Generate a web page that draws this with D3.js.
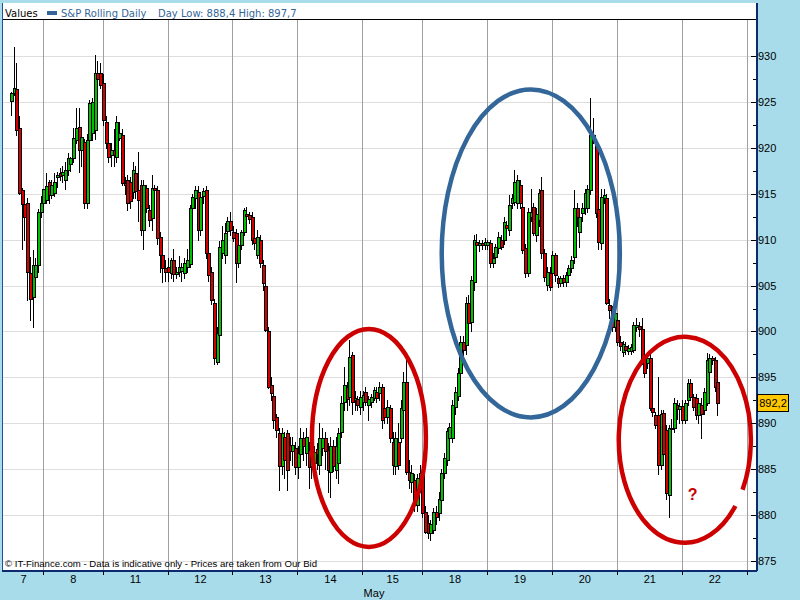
<!DOCTYPE html>
<html>
<head>
<meta charset="utf-8">
<script src="https://cdn.jsdelivr.net/npm/d3@7/dist/d3.min.js"></script>
<style>
html,body{margin:0;padding:0;background:#a8dcea;}
svg{display:block;}
</style>
</head>
<body>
<svg id="chart" width="800" height="600"></svg>
<script>
// ---------------- DATA ----------------
const sessionLabels   = ["7","8","11","12","13","14","15","18","19","20","21","22"];
const sessionStartHour = [-14.77, 0, 22, 46, 70, 94, 118, 140, 164, 188, 212, 236];
const sessionEndHour   = [0, 22, 46, 70, 94, 118, 140, 164, 188, 212, 236, 260];
const axisEndHour = 263.4;
const monthLabel = "May";
const firstCandleHour = -12;   // hourly candles, consecutive from here

const open = [
 925.1,926.0,926.4,922.2,915.4,913.9,914.0,906.4,903.8,905.9,907.2,913.0,
 914.0,914.3,916.3,914.9,915.1,916.8,917.3,917.0,916.5,917.6,918.2,918.9,920.9,922.3,919.8,920.6,914.0,920.9,921.6,921.9,928.1,928.1,
 927.1,922.8,920.5,919.2,919.8,919.0,921.1,921.4,916.2,916.5,916.3,915.2,917.3,915.4,916.0,911.0,915.6,913.2,912.4,915.6,915.4,910.3,908.3,906.9,
 907.0,906.4,907.8,906.3,906.5,906.6,906.4,907.0,907.4,913.4,914.5,915.2,911.0,914.8,915.4,908.5,906.5,903.1,896.7,899.6,908.5,908.3,910.9,912.0,
 910.8,910.7,907.5,909.4,910.8,912.8,912.7,912.5,910.2,908.3,910.0,907.2,904.9,900.0,894.2,893.0,890.7,888.9,885.4,888.5,888.9,887.6,887.0,887.3,
 885.2,886.7,888.4,886.8,887.1,885.4,885.7,887.2,885.5,887.3,888.4,887.1,884.7,887.5,884.9,885.7,889.1,892.3,894.0,892.9,897.4,892.5,892.6,891.8,
 892.3,893.4,892.0,892.3,892.8,893.4,893.3,894.0,891.7,890.7,891.7,888.0,885.4,888.0,888.4,891.5,894.5,884.7,883.6,883.8,881.1,883.8,
 884.6,880.3,879.1,878.0,878.4,880.3,880.2,881.6,884.6,886.0,888.4,888.4,891.8,893.0,895.5,898.8,898.5,903.1,901.0,905.4,909.7,909.4,909.6,909.4,
 909.4,909.6,907.5,908.1,909.1,910.0,910.0,911.6,911.0,914.0,914.1,914.0,916.0,913.6,909.1,906.4,912.5,913.6,910.5,912.1,915.4,908.5,905.1,906.4,
 906.4,908.3,905.8,905.3,905.8,905.4,906.1,906.9,908.1,913.4,910.8,912.9,913.4,913.5,915.4,921.1,920.5,913.3,909.6,914.5,914.5,902.9,902.3,900.5,
 901.3,898.8,897.8,898.4,897.9,897.9,898.0,900.5,900.6,900.3,897.2,896.6,897.1,891.7,890.9,890.9,885.5,891.1,889.3,882.2,889.5,889.5,892.0,891.6,
 891.9,890.4,892.5,894.4,892.9,892.8,890.9,892.0,891.5,892.2,895.6,897.1,896.9,894.5
];
const high = [
 926.1,931.0,929.2,923.5,915.6,914.5,914.5,908.1,908.9,908.0,913.3,914.8,
 915.5,917.3,916.5,916.5,917.3,917.4,917.8,918.0,918.5,919.4,919.0,922.2,924.3,924.3,921.5,921.0,921.5,925.2,925.4,930.1,929.5,929.2,
 928.0,923.5,921.0,920.5,922.0,923.5,922.8,922.0,916.8,917.0,916.8,918.5,918.0,919.5,916.5,916.5,916.0,913.8,917.0,916.0,915.8,910.8,909.0,907.8,
 908.0,908.0,909.0,907.0,908.2,907.5,908.0,909.0,913.8,915.0,915.8,915.8,915.0,915.6,915.8,909.0,907.0,903.5,900.5,909.8,911.5,911.8,912.5,913.0,
 911.5,911.2,910.5,911.0,913.5,913.6,913.0,913.0,910.8,911.0,910.5,907.8,905.3,900.5,895.0,893.5,891.0,889.5,889.5,889.0,889.3,888.5,888.5,888.0,
 887.5,889.5,889.0,889.5,888.0,887.0,887.5,887.8,890.0,889.5,889.0,887.8,888.5,888.2,888.5,889.5,893.0,896.1,894.5,899.1,897.8,893.5,893.0,893.5,
 893.5,894.0,893.0,893.2,894.0,894.0,894.5,894.3,892.5,892.5,892.0,889.0,889.0,890.0,892.5,895.6,897.6,886.0,885.5,884.5,884.5,885.5,
 885.5,881.0,880.0,879.5,880.8,881.0,882.5,885.0,886.8,889.5,890.0,892.5,894.0,896.0,899.5,899.5,903.8,904.0,906.0,910.5,910.6,910.0,910.0,910.2,
 910.0,910.0,908.5,909.5,910.8,910.5,912.5,912.0,914.9,915.0,917.6,917.0,916.5,914.0,909.5,913.5,915.5,914.0,913.5,915.5,916.8,909.0,907.0,907.0,
 908.8,908.5,906.0,906.0,906.2,906.5,907.2,908.2,915.4,914.0,913.0,914.0,915.5,916.0,925.4,923.2,921.0,913.8,915.5,915.5,915.0,903.5,902.8,902.2,
 902.0,899.5,899.0,898.8,898.5,898.6,901.0,901.5,901.0,901.5,897.8,897.5,897.5,892.0,891.2,895.0,891.5,891.5,889.8,889.8,890.5,892.8,892.5,892.2,
 892.5,892.5,894.8,894.8,893.2,893.2,892.5,892.8,893.8,897.7,897.5,897.3,897.2,894.8
];
const low = [
 923.6,925.8,921.4,915.0,909.0,910.0,903.4,901.2,900.5,905.5,906.5,912.5,
 913.5,914.0,914.0,914.5,914.8,915.7,916.5,916.3,915.5,917.0,917.5,918.5,920.5,917.4,918.0,913.5,913.5,920.5,920.8,921.0,926.5,926.5,
 922.5,920.0,918.5,918.0,918.0,918.5,920.8,916.0,915.0,913.2,913.5,914.5,914.5,912.0,910.5,909.0,913.0,911.5,911.0,914.0,909.5,906.5,905.4,905.5,
 905.5,905.8,905.5,905.8,906.0,905.5,905.8,906.5,907.0,913.0,913.5,910.0,910.5,914.0,908.0,905.5,903.0,896.5,896.5,899.0,908.0,907.5,910.0,910.5,
 909.8,905.4,907.0,909.0,910.5,912.0,911.8,909.5,909.0,908.0,907.0,904.5,900.0,893.8,892.5,889.5,888.5,882.7,884.5,884.0,882.7,886.0,885.5,884.5,
 884.0,886.0,886.0,885.5,883.0,884.0,884.5,885.0,884.5,886.5,885.0,882.5,882.0,884.8,884.0,883.5,888.5,891.5,891.5,892.0,891.0,891.5,891.5,891.0,
 891.5,892.0,890.4,891.8,892.5,892.3,892.5,889.5,890.0,890.0,888.0,884.5,884.5,885.0,888.0,891.0,884.5,883.0,882.5,880.5,880.5,882.5,
 879.8,878.0,877.5,877.3,878.0,879.0,879.5,880.8,884.0,885.5,887.5,888.0,891.0,892.5,895.0,897.0,897.5,900.5,900.0,904.5,906.0,908.8,909.0,909.0,
 909.0,907.0,907.0,907.8,908.5,909.0,909.5,911.0,910.5,913.5,913.8,913.5,913.5,908.5,905.9,906.0,912.0,910.5,909.8,911.5,908.0,905.5,904.5,904.5,
 906.0,905.5,904.8,905.0,905.0,905.0,905.8,906.5,907.5,911.5,909.2,912.0,912.8,913.0,915.0,920.5,912.5,909.0,909.0,914.0,903.0,901.5,900.0,900.0,
 898.5,898.0,897.3,897.5,897.5,897.5,897.8,900.0,899.5,896.5,895.0,896.0,891.5,890.8,889.5,884.5,885.0,886.0,881.7,879.8,888.5,889.0,890.5,890.0,
 890.0,890.0,892.0,892.5,891.5,890.5,890.0,888.4,891.0,892.0,895.2,896.5,893.5,890.9
];
const close = [
 926.0,926.5,921.9,915.1,913.9,912.5,906.5,903.5,907.2,907.2,913.0,914.0,
 915.5,915.8,914.9,916.0,916.3,917.0,916.9,917.4,917.6,918.9,918.9,921.1,922.2,919.8,921.2,914.0,920.8,924.9,925.0,928.1,927.5,926.8,
 923.0,920.5,919.0,919.8,919.2,922.8,921.6,916.2,916.0,914.0,914.2,917.6,915.3,914.3,911.0,916.0,913.5,912.1,915.6,915.4,910.2,908.3,906.9,906.5,
 906.5,907.8,906.3,906.5,907.0,907.0,907.5,907.8,913.4,914.6,915.4,911.0,914.6,915.3,908.5,906.1,903.4,897.1,899.8,909.2,910.0,910.7,912.0,911.0,
 910.2,907.5,909.4,910.8,913.2,912.6,912.3,910.0,909.6,910.3,907.5,905.3,900.2,894.0,893.3,890.4,889.3,885.4,888.9,886.0,884.9,887.0,887.6,885.2,
 886.8,888.4,887.5,888.5,885.2,886.3,886.9,886.6,888.4,888.4,887.0,884.9,887.5,885.3,887.5,888.9,892.2,894.2,892.6,897.2,892.3,892.8,892.0,892.9,
 893.1,892.3,892.6,892.9,893.6,892.8,894.0,890.4,890.7,891.8,888.4,885.5,888.4,885.5,891.7,894.5,884.7,883.8,884.6,881.1,884.0,884.6,
 880.2,878.2,878.0,879.0,880.3,879.8,881.8,884.6,886.2,889.2,889.6,892.0,893.4,895.5,898.8,898.0,903.1,900.9,905.6,910.0,909.4,909.6,909.4,909.7,
 909.7,907.5,908.0,909.2,910.3,909.2,911.9,911.3,913.8,914.5,916.3,916.5,914.0,908.9,906.4,913.0,913.0,910.7,912.8,915.1,908.5,905.9,906.5,904.8,
 908.3,906.1,905.3,905.8,905.4,906.1,906.9,907.8,913.4,912.5,912.5,913.4,915.1,915.5,921.4,921.4,912.9,909.7,914.6,914.9,903.1,902.3,900.5,902.0,
 898.8,898.4,898.6,898.0,898.2,898.3,900.7,900.7,900.3,897.0,895.5,897.1,891.7,891.2,889.8,885.5,891.0,886.6,882.4,889.5,889.5,892.2,891.6,891.9,
 890.4,892.2,894.4,892.9,891.8,890.9,892.2,891.0,893.4,896.9,897.1,896.9,893.9,892.2
];
const priceTicks = [875,880,885,890,895,900,905,910,915,920,925,930];
const lastPrice = 892.2;
const dayLow = 888.4, dayHigh = 897.7;
const legendLead = "Values";
const seriesName = "S&P Rolling Daily";
const footerText = "\u00A9 IT-Finance.com - Data is indicative only - Prices are taken from Our Bid";
// annotations in data units: [centerHour, centerPrice, radiusHours, radiusPrice]
const redEllipseA  = [120.4, 888.4, 21.05, 11.87];
const blueEllipse  = [180.2, 908.5, 32.9, 17.86];
const redEllipseB  = [237.1, 888.2, 24.4, 11.22];
const questionMark = {hour: 240.0, price: 881.6, text: "?"};

// ---------------- DRAW ----------------
const W = 800, H = 600;
const P = {left: 3, right: 756, top: 20, bottom: 570};
const navy = "#0c2a6e", bg = "#a8dcea", blue = "#336699", red = "#cc0000";
const svg = d3.select("#chart");
const x = d3.scaleLinear().domain([sessionStartHour[0], axisEndHour]).range([P.left, P.right]);
const y = d3.scaleLinear().domain([875, 930]).range([561, 56]);
const fmt = d3.formatLocale({decimal: ",", thousands: ".", grouping: [3], currency: ["", ""]}).format(".1f");

svg.append("rect").attr("width", W).attr("height", H).attr("fill", bg);
svg.append("rect").attr("x", 2).attr("y", 3).attr("width", P.right - 2).attr("height", P.bottom - 3).attr("fill", "#fff");

const crisp = svg.append("g").attr("shape-rendering", "crispEdges");
// horizontal grid
crisp.append("g").selectAll("line").data(priceTicks).join("line")
  .attr("x1", P.left).attr("x2", P.right)
  .attr("y1", d => Math.round(y(d)) + 0.5).attr("y2", d => Math.round(y(d)) + 0.5)
  .attr("stroke", "#dedede").attr("stroke-width", 1);
// session separators
crisp.append("g").selectAll("line").data(sessionEndHour).join("line")
  .attr("x1", d => Math.round(x(d)) + 0.5).attr("x2", d => Math.round(x(d)) + 0.5)
  .attr("y1", P.top).attr("y2", P.bottom)
  .attr("stroke", "#a0a0a0").attr("stroke-width", 1);

// candles
const candles = open.map((o, i) => ({h: firstCandleHour + i, o, hi: high[i], lo: low[i], c: close[i]}));
const cg = crisp.append("g").selectAll("g").data(candles).join("g");
const cx = d => Math.round(x(d.h + 0.5));
cg.append("line")
  .attr("x1", d => cx(d) - 0.5).attr("x2", d => cx(d) - 0.5)
  .attr("y1", d => Math.round(y(d.hi))).attr("y2", d => Math.round(y(d.lo)) + 1)
  .attr("stroke", "#000").attr("stroke-width", 1);
cg.append("rect")
  .attr("x", d => cx(d) - 1.5).attr("width", 3)
  .attr("y", d => Math.round(y(Math.max(d.o, d.c))) + 0.5)
  .attr("height", d => Math.max(1, Math.round(y(Math.min(d.o, d.c))) - Math.round(y(Math.max(d.o, d.c)))))
  .attr("fill", d => d.c >= d.o ? "#00c000" : "#d40000")
  .attr("stroke", "#000").attr("stroke-width", 1);

// legend
const font = "'DejaVu Sans', Verdana, sans-serif";
svg.append("text").attr("x", 5).attr("y", 16.5).attr("font-family", font).attr("font-size", 10).attr("fill", "#000").text(legendLead);
svg.append("rect").attr("x", 47).attr("y", 11).attr("width", 10).attr("height", 4).attr("fill", blue);
svg.append("text").attr("x", 61).attr("y", 16.5).attr("font-family", font).attr("font-size", 10).attr("fill", blue).text(seriesName);
svg.append("text").attr("x", 158).attr("y", 16.5).attr("font-family", font).attr("font-size", 10).attr("fill", blue)
  .text(`Day Low: ${fmt(dayLow)} High: ${fmt(dayHigh)}`);
crisp.append("line").attr("x1", P.left).attr("x2", P.right).attr("y1", 19.5).attr("y2", 19.5).attr("stroke", "#000");

// footer
svg.append("text").attr("x", 5).attr("y", 566.5).attr("font-family", "'Liberation Sans', Arial, sans-serif")
  .attr("font-size", 9.6).attr("fill", "#000").text(footerText);

// annotations
function ell(g, e, color) {
  g.append("ellipse").attr("cx", x(e[0])).attr("cy", y(e[1]))
    .attr("rx", x(e[0] + e[2]) - x(e[0])).attr("ry", y(e[1] - e[3]) - y(e[1]))
    .attr("fill", "none").attr("stroke", color).attr("stroke-width", 4.5);
}
const ann = svg.append("g");
ell(ann, redEllipseA, red);
ell(ann, blueEllipse, blue);
{
  const e = redEllipseB;
  const ecx = x(e[0]), ecy = y(e[1]);
  const rx = x(e[0] + e[2]) - ecx, ry = y(e[1] - e[3]) - ecy;
  const a0 = 40 * Math.PI / 180, a1 = 29 * Math.PI / 180;
  const p0 = [ecx + rx * Math.cos(a0), ecy + ry * Math.sin(a0)];
  const p1 = [ecx + rx * Math.cos(a1), ecy + ry * Math.sin(a1)];
  ann.append("path").attr("d", `M${p0[0]},${p0[1]} A${rx},${ry} 0 1 1 ${p1[0]},${p1[1]}`)
    .attr("fill", "none").attr("stroke", red).attr("stroke-width", 4.5);
}
ann.append("text").attr("x", x(questionMark.hour)).attr("y", y(questionMark.price))
  .attr("text-anchor", "middle").attr("font-family", "'Liberation Sans', Arial, sans-serif")
  .attr("font-weight", "bold").attr("font-size", 16).attr("fill", red).text(questionMark.text);

// borders
crisp.append("line").attr("x1", 2.5).attr("x2", 2.5).attr("y1", 3).attr("y2", P.bottom + 1).attr("stroke", "#1f4f9f").attr("stroke-width", 1);
crisp.append("line").attr("x1", 2).attr("x2", P.right + 1).attr("y1", P.bottom + 0.5).attr("y2", P.bottom + 0.5).attr("stroke", navy).attr("stroke-width", 2);
crisp.append("line").attr("x1", P.right + 0.5).attr("x2", P.right + 0.5).attr("y1", 3).attr("y2", P.bottom + 1).attr("stroke", navy).attr("stroke-width", 2);

// right axis: inward ticks, labels outside
const minorTicks = priceTicks.slice(1).map((t, i) => (t + priceTicks[i]) / 2);
const axisFont = "'Liberation Sans', Arial, sans-serif";
const tickMaj = svg.append("g").attr("transform", `translate(${P.right},0)`)
  .call(d3.axisLeft(y).tickValues(priceTicks).tickSize(5).tickFormat(""));
const tickMin = svg.append("g").attr("transform", `translate(${P.right},0)`)
  .call(d3.axisLeft(y).tickValues(minorTicks).tickSize(3).tickFormat(""));
[tickMaj, tickMin].forEach(g => { g.select(".domain").remove(); g.selectAll("line").attr("stroke", "#000").attr("shape-rendering", "crispEdges"); });
const labR = svg.append("g").attr("transform", `translate(${P.right},0)`)
  .call(d3.axisRight(y).tickValues(priceTicks).tickSize(0).tickPadding(2).tickFormat(d => d));
labR.select(".domain").remove();
labR.selectAll("text").attr("font-family", axisFont).attr("font-size", 11).attr("fill", "#000");

// last price tag
const ly = y(lastPrice);
svg.append("rect").attr("x", P.right + 1.5).attr("y", Math.round(ly) - 8.5).attr("width", 31).attr("height", 17)
  .attr("fill", "#ffc800").attr("stroke", "#000").attr("stroke-width", 1).attr("shape-rendering", "crispEdges");
svg.append("text").attr("x", P.right + 17).attr("y", ly).attr("dy", "0.35em").attr("text-anchor", "middle")
  .attr("font-family", axisFont).attr("font-size", 11).attr("fill", "#000").text(fmt(lastPrice));

// bottom axis: ticks at session boundaries, labels at session centres
const tickB = svg.append("g").attr("transform", `translate(0,${P.bottom + 1})`)
  .call(d3.axisBottom(x).tickValues(sessionEndHour).tickSize(4).tickFormat(""));
tickB.select(".domain").remove();
tickB.selectAll("line").attr("stroke", "#000").attr("shape-rendering", "crispEdges");
const centres = sessionStartHour.map((s, i) => (s + sessionEndHour[i]) / 2);
const labB = svg.append("g").attr("transform", `translate(0,${P.bottom + 1})`)
  .call(d3.axisBottom(x).tickValues(centres).tickSize(0).tickPadding(4).tickFormat((d, i) => sessionLabels[i]));
labB.select(".domain").remove();
labB.selectAll("text").attr("font-family", axisFont).attr("font-size", 11).attr("fill", "#000");
svg.append("text").attr("x", 374).attr("y", 597).attr("text-anchor", "middle")
  .attr("font-family", axisFont).attr("font-size", 11).attr("fill", "#000").text(monthLabel);
</script>
</body>
</html>
